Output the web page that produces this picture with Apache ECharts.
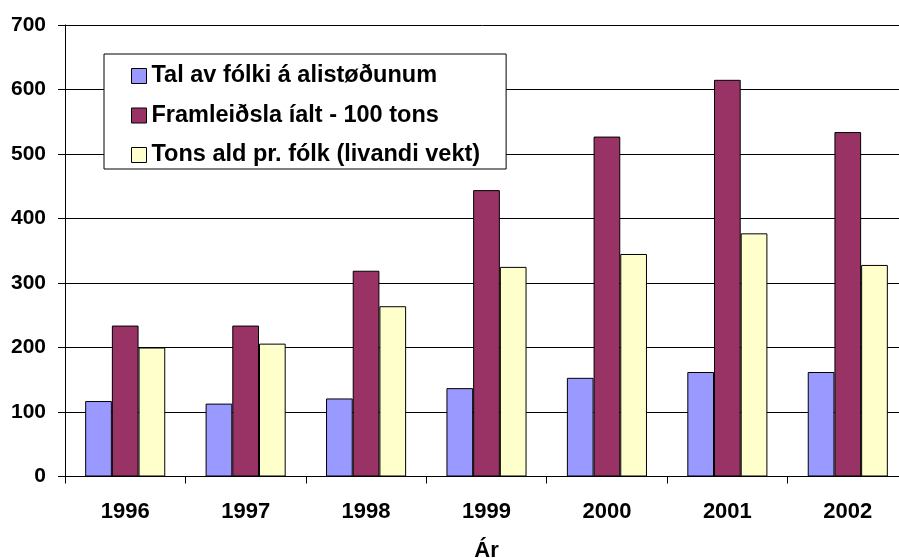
<!DOCTYPE html>
<html><head><meta charset="utf-8">
<script src="https://cdn.jsdelivr.net/npm/echarts@6/dist/echarts.min.js"></script>
<style>html,body{margin:0;padding:0;background:#fff}#c{width:899px;height:558px}</style>
</head><body><div id="c"></div>
<script>
const categories = ['1996','1997','1998','1999','2000','2001','2002'];
const seriesNames = ['Tal av fólki á alistøðunum','Framleiðsla íalt - 100 tons','Tons ald pr. fólk (livandi vekt)'];
const talFolk = [117, 113, 121, 137, 153, 162, 162];
const framleidsla = [234, 234, 319, 444, 527, 615, 534];
const tonsPrFolk = [200, 206, 264, 325, 345, 377, 328];
const yTicks = [0,100,200,300,400,500,600,700];

const colors = ['#9999FF','#993366','#FFFFCC'];
const font = 'Arial, "Liberation Sans", sans-serif';
const chart = echarts.init(document.getElementById('c'), null, {renderer:'canvas'});
const mk = (name, data, i) => ({
  name, type:'bar', data, barGap:'0%', barCategoryGap:'33.5%',
  itemStyle:{color:colors[i], borderColor:'#000', borderWidth:1},
  emphasis:{disabled:true}
});
chart.setOption({
  animation:false,
  textStyle:{fontFamily:font},
  grid:{left:65, right:-9, top:25, bottom:81.5, containLabel:false, outerBoundsMode:'none'},
  legend:{
    orient:'vertical', left:104, top:54,
    backgroundColor:'#fff', borderColor:'#000', borderWidth:1,
    padding:[10,26,2,27], itemGap:15.5, itemWidth:15, itemHeight:15,
    icon:'rect',
    textStyle:{fontFamily:font, fontWeight:'bold', fontSize:23.5, lineHeight:22, color:'#000'},
    data: seriesNames.map((n,i)=>({name:n, itemStyle:{color:colors[i], borderColor:'#000', borderWidth:1}}))
  },
  xAxis:{
    type:'category', data:categories,
    name:'Ár', nameLocation:'middle', nameGap:63,
    nameTextStyle:{fontFamily:font, fontWeight:'bold', fontSize:22, color:'#000'},
    axisLine:{lineStyle:{color:'#000', width:1}},
    axisTick:{show:true, length:7, lineStyle:{color:'#000'}},
    axisLabel:{margin:24, fontFamily:font, fontWeight:'bold', fontSize:22, color:'#000'}
  },
  yAxis:{
    type:'value', min:yTicks[0], max:yTicks[yTicks.length-1], interval:100,
    axisLine:{show:true, lineStyle:{color:'#000', width:1}},
    axisTick:{show:true, length:7, lineStyle:{color:'#000'}},
    splitLine:{show:true, lineStyle:{color:'#000', width:1}},
    axisLabel:{margin:19, fontFamily:font, fontWeight:'bold', fontSize:21, color:'#000'}
  },
  series:[mk(seriesNames[0], talFolk, 0), mk(seriesNames[1], framleidsla, 1), mk(seriesNames[2], tonsPrFolk, 2)]
});
</script></body></html>
